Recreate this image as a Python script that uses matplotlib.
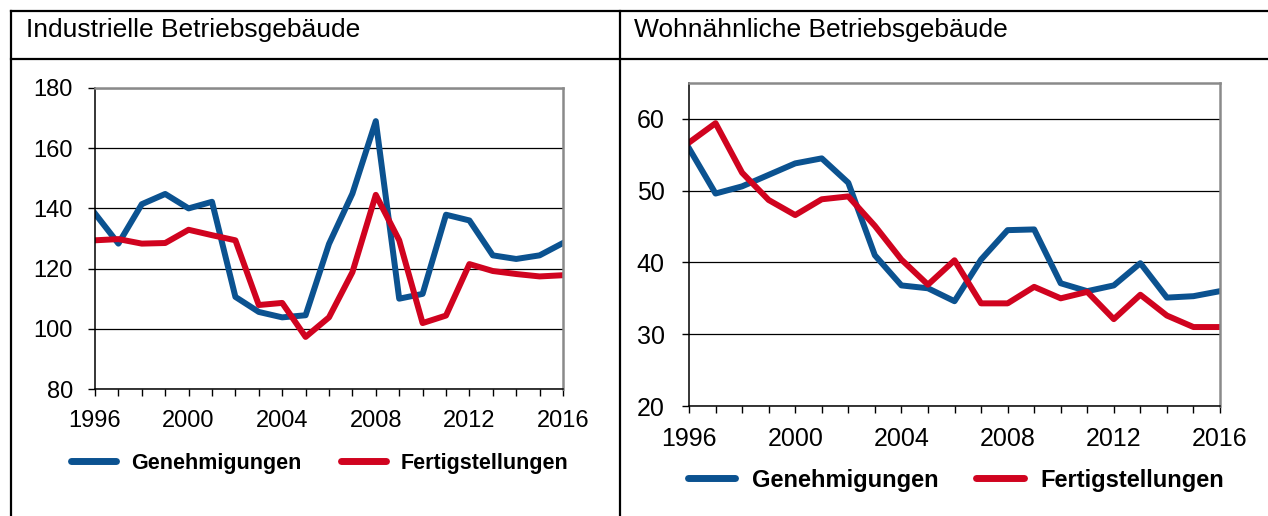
import numpy as np
import matplotlib
matplotlib.use("Agg")
import matplotlib.pyplot as plt
from matplotlib.lines import Line2D
from matplotlib.ticker import MultipleLocator

plt.rcParams['font.family'] = ['Liberation Sans', 'DejaVu Sans']

years = list(range(1996, 2017))

# Industrielle Betriebsgebäude
ind_gen = [138.3, 128.3, 141.4, 144.8, 140.0, 142.2, 110.6, 105.6, 103.8, 104.5,
           128.2, 144.9, 169.0, 110.0, 111.6, 137.9, 136.0, 124.4, 123.2, 124.4, 128.5]
ind_fert = [129.4, 129.8, 128.3, 128.5, 132.9, 131.1, 129.4, 107.9, 108.6, 97.3,
            103.8, 118.8, 144.5, 129.4, 101.9, 104.4, 121.5, 119.2, 118.2, 117.4, 117.8]

# Wohnähnliche Betriebsgebäude
wohn_gen = [55.9, 49.6, 50.6, 52.2, 53.8, 54.5, 51.1, 41.0, 36.8, 36.4,
            34.6, 40.4, 44.5, 44.6, 37.1, 36.0, 36.8, 39.9, 35.1, 35.3, 36.0]
wohn_fert = [56.7, 59.4, 52.5, 48.7, 46.6, 48.8, 49.2, 45.1, 40.4, 36.9,
             40.3, 34.3, 34.3, 36.6, 35.0, 35.9, 32.1, 35.5, 32.6, 31.0, 31.0]

titles = ["Industrielle Betriebsgebäude", "Wohnähnliche Betriebsgebäude"]
labels = ["Genehmigungen", "Fertigstellungen"]
blue = '#0b5290'
red = '#d0031f'

W, H = 1268, 516
fig = plt.figure(figsize=(W / 100, H / 100), dpi=100)


def px_axes(x0, x1, ytop, ybot):
    return fig.add_axes([x0 / W, 1 - ybot / H, (x1 - x0) / W, (ybot - ytop) / H])


def style(ax, ylim, ystep, fs, xpad, ypad):
    ax.set_xlim(1996, 2016)
    ax.set_ylim(*ylim)
    ax.yaxis.set_major_locator(MultipleLocator(ystep))
    ax.xaxis.set_major_locator(MultipleLocator(4))
    ax.xaxis.set_minor_locator(MultipleLocator(1))
    ax.grid(axis='y', color='black', linewidth=0.9)
    ax.set_axisbelow(True)
    for s in ['top', 'right']:
        ax.spines[s].set_color('#8a8a8a')
        ax.spines[s].set_linewidth(1.8)
    for s in ['left', 'bottom']:
        ax.spines[s].set_color('black')
        ax.spines[s].set_linewidth(1.1)
    ax.tick_params(axis='both', which='both', direction='out', length=5,
                   width=1.0, labelsize=fs)
    ax.tick_params(axis='x', pad=xpad)
    ax.tick_params(axis='y', pad=ypad)


# left panel
ax1 = px_axes(95, 563, 88, 389)
ax1.plot(years, ind_gen, color=blue, lw=4.3, label=labels[0])
ax1.plot(years, ind_fert, color=red, lw=4.3, label=labels[1])
style(ax1, (80, 180), 20, 17, 10, 11)
leg1 = ax1.legend(loc='center', bbox_to_anchor=(320 / W, 1 - 463 / H),
                  bbox_transform=fig.transFigure, ncol=2, frameon=False,
                  handlelength=2.1, handletextpad=0.7, columnspacing=1.8,
                  prop={'weight': 'bold', 'size': 15.5})
for h in leg1.get_lines():
    h.set_linewidth(5)
    h.set_solid_capstyle('round')

# right panel
ax2 = px_axes(689, 1220, 83, 406)
ax2.plot(years, wohn_gen, color=blue, lw=4.3, label=labels[0])
ax2.plot(years, wohn_fert, color=red, lw=4.3, label=labels[1])
style(ax2, (20, 65), 10, 18, 10, 12.5)
ax2.set_yticks([20, 30, 40, 50, 60])
leg2 = ax2.legend(loc='center', bbox_to_anchor=(956 / W, 1 - 480 / H),
                  bbox_transform=fig.transFigure, ncol=2, frameon=False,
                  handlelength=2.0, handletextpad=0.7, columnspacing=1.6,
                  prop={'weight': 'bold', 'size': 17})
for h in leg2.get_lines():
    h.set_linewidth(5)
    h.set_solid_capstyle('round')

# titles
fig.text(26 / W, 1 - 37 / H, titles[0], fontsize=19, va='baseline', ha='left')
fig.text(634 / W, 1 - 37 / H, titles[1], fontsize=19, va='baseline', ha='left')

# table frame
def fline(x0, y0, x1, y1):
    fig.add_artist(Line2D([x0 / W, x1 / W], [1 - y0 / H, 1 - y1 / H],
                          color='black', lw=1.6, transform=fig.transFigure))

fline(11, 11, W, 11)
fline(11, 59, W, 59)
fline(11, 11, 11, H)
fline(620, 11, 620, H)

fig.savefig('out.png', dpi=100)
